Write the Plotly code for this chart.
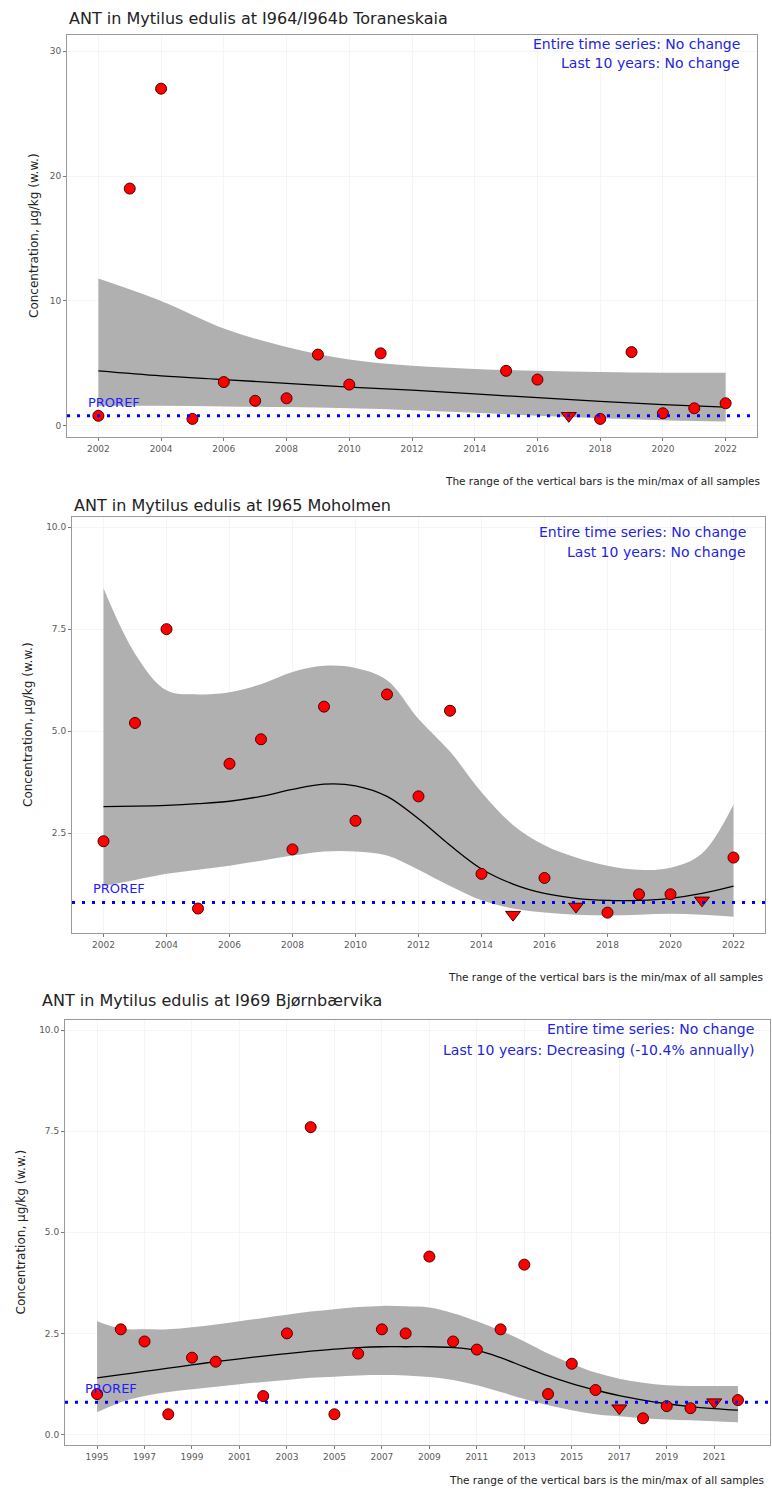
import plotly.graph_objects as go

W, H = 772, 1490

# ---------------- I964/I964b Toraneskaia ----------------
tor_years = [2002, 2003, 2004, 2005, 2006, 2007, 2008, 2009, 2010, 2011,
             2015, 2016, 2017, 2018, 2019, 2020, 2021, 2022]
tor_conc = [0.8, 19.0, 27.0, 0.55, 3.5, 2.0, 2.2, 5.7, 3.3, 5.8,
            4.4, 3.7, 0.8, 0.55, 5.9, 1.0, 1.4, 1.8]
tor_below_loq = [2017]
tor_fit_years = [2002, 2004, 2006, 2008, 2010, 2012, 2014, 2016, 2018, 2020, 2022]
tor_fit = [4.4, 4.0, 3.7, 3.4, 3.1, 2.85, 2.55, 2.25, 1.95, 1.7, 1.5]
tor_hi = [11.8, 10.0, 7.8, 6.3, 5.3, 4.8, 4.55, 4.4, 4.3, 4.25, 4.25]
tor_lo = [1.6, 1.6, 1.55, 1.5, 1.4, 1.25, 1.05, 0.8, 0.6, 0.45, 0.35]

# ---------------- I965 Moholmen ----------------
moh_years = list(range(2002, 2023))
moh_conc = [2.3, 5.2, 7.5, 0.65, 4.2, 4.8, 2.1, 5.6, 2.8, 5.9, 3.4,
            5.5, 1.5, 0.5, 1.4, 0.7, 0.55, 1.0, 1.0, 0.85, 1.9]
moh_below_loq = [2015, 2017, 2021]
moh_fit_years = list(range(2002, 2023))
moh_fit = [3.15, 3.16, 3.18, 3.22, 3.28, 3.4, 3.57, 3.7, 3.66, 3.4, 2.85,
           2.2, 1.62, 1.25, 1.02, 0.9, 0.85, 0.85, 0.9, 1.02, 1.2]
moh_hi = [8.5, 6.9, 6.0, 5.9, 5.95, 6.15, 6.45, 6.6, 6.55, 6.25, 5.3,
          4.5, 3.5, 2.7, 2.2, 1.9, 1.7, 1.6, 1.65, 2.0, 3.2]
moh_lo = [1.2, 1.35, 1.5, 1.6, 1.7, 1.82, 1.95, 2.05, 2.05, 1.95, 1.6,
          1.2, 0.85, 0.65, 0.55, 0.5, 0.48, 0.5, 0.52, 0.5, 0.45]

# ---------------- I969 Bjørnbærvika ----------------
bjo_years = [1995, 1996, 1997, 1998, 1999, 2000, 2002, 2003, 2004, 2005,
             2006, 2007, 2008, 2009, 2010, 2011, 2012, 2013, 2014, 2015,
             2016, 2017, 2018, 2019, 2020, 2021, 2022]
bjo_conc = [1.0, 2.6, 2.3, 0.5, 1.9, 1.8, 0.95, 2.5, 7.6, 0.5,
            2.0, 2.6, 2.5, 4.4, 2.3, 2.1, 2.6, 4.2, 1.0, 1.75,
            1.1, 0.65, 0.4, 0.7, 0.65, 0.8, 0.85]
bjo_below_loq = [2017, 2021]
bjo_fit_years = list(range(1995, 2023))
bjo_fit = [1.4, 1.48, 1.56, 1.64, 1.72, 1.8, 1.87, 1.94, 2.0, 2.06,
           2.11, 2.15, 2.17, 2.17, 2.17, 2.15, 2.08, 1.9, 1.67, 1.45,
           1.26, 1.1, 0.96, 0.85, 0.76, 0.69, 0.64, 0.6]
bjo_hi = [2.8, 2.62, 2.6, 2.6, 2.65, 2.72, 2.8, 2.88, 2.96, 3.04,
          3.1, 3.15, 3.18, 3.17, 3.14, 3.0, 2.8, 2.57, 2.3, 2.0,
          1.75, 1.53, 1.38, 1.28, 1.22, 1.2, 1.2, 1.2]
bjo_lo = [0.55, 0.8, 0.95, 1.05, 1.12, 1.18, 1.24, 1.3, 1.35, 1.4,
          1.43, 1.46, 1.47, 1.46, 1.42, 1.35, 1.22, 1.05, 0.88, 0.72,
          0.6, 0.5, 0.45, 0.4, 0.37, 0.35, 0.33, 0.3]

PROREF = 0.8

panels = [
    dict(title="ANT in Mytilus edulis at I964/I964b Toraneskaia",
         years=tor_years, conc=tor_conc, below=tor_below_loq,
         fit_x=tor_fit_years, fit=tor_fit, hi=tor_hi, lo=tor_lo,
         trend1="Entire time series: No change",
         trend2="Last 10 years: No change",
         box=(67, 757, 35, 437), xr=[2001, 2023], yr=[-0.9, 31.3],
         xt=list(range(2002, 2023, 2)), yt=[0, 10, 20, 30],
         ytl=["0", "10", "20", "30"],
         title_xy=(67, 18), ylab_x=34, trend_x=742, trend_y=(44, 63),
         note_xy=(762, 481), proref_x=2001.6),
    dict(title="ANT in Mytilus edulis at I965 Moholmen",
         years=moh_years, conc=moh_conc, below=moh_below_loq,
         fit_x=moh_fit_years, fit=moh_fit, hi=moh_hi, lo=moh_lo,
         trend1="Entire time series: No change",
         trend2="Last 10 years: No change",
         box=(72, 765, 517, 933), xr=[2001, 2023], yr=[0.05, 10.25],
         xt=list(range(2002, 2023, 2)), yt=[2.5, 5.0, 7.5, 10.0],
         ytl=["2.5", "5.0", "7.5", "10.0"],
         title_xy=(72, 505), ylab_x=28, trend_x=748, trend_y=(532, 552),
         note_xy=(765, 977), proref_x=2001.6),
    dict(title="ANT in Mytilus edulis at I969 Bjørnbærvika",
         years=bjo_years, conc=bjo_conc, below=bjo_below_loq,
         fit_x=bjo_fit_years, fit=bjo_fit, hi=bjo_hi, lo=bjo_lo,
         trend1="Entire time series: No change",
         trend2="Last 10 years: Decreasing (-10.4% annually)",
         box=(65, 770, 1020, 1445), xr=[1993.65, 2023.35], yr=[-0.26, 10.25],
         xt=list(range(1995, 2022, 2)), yt=[0.0, 2.5, 5.0, 7.5, 10.0],
         ytl=["0.0", "2.5", "5.0", "7.5", "10.0"],
         title_xy=(40, 1000), ylab_x=20, trend_x=756, trend_y=(1029, 1050),
         note_xy=(766, 1480), proref_x=1994.4),
]

FONT = "DejaVu Sans"
BLUE_TXT = "#2424dc"


def px(x):
    return x / W


def py(y):
    return 1 - y / H


fig = go.Figure()
layout = dict(width=W, height=H, margin=dict(l=0, r=0, t=0, b=0),
              paper_bgcolor="white", plot_bgcolor="white",
              showlegend=False, annotations=[], shapes=[])

for i, p in enumerate(panels, start=1):
    xa = "x" if i == 1 else f"x{i}"
    ya = "y" if i == 1 else f"y{i}"
    left, right, top, bottom = p["box"]

    # confidence band of the smoother
    fig.add_trace(go.Scatter(x=p["fit_x"], y=p["hi"], mode="lines",
                             line=dict(width=0, shape="spline", color="rgba(0,0,0,0)"),
                             xaxis=xa, yaxis=ya, hoverinfo="skip"))
    fig.add_trace(go.Scatter(x=p["fit_x"], y=p["lo"], mode="lines",
                             line=dict(width=0, shape="spline", color="rgba(0,0,0,0)"),
                             fill="tonexty", fillcolor="#b0b0b0",
                             xaxis=xa, yaxis=ya, hoverinfo="skip"))
    # smoothed trend
    fig.add_trace(go.Scatter(x=p["fit_x"], y=p["fit"], mode="lines",
                             line=dict(width=1.3, shape="spline", color="black"),
                             xaxis=xa, yaxis=ya))

    # measured medians: circles, below-LOQ as downward triangles
    cx = [x for x in p["years"] if x not in p["below"]]
    cy = [v for x, v in zip(p["years"], p["conc"]) if x not in p["below"]]
    tx = [x for x in p["years"] if x in p["below"]]
    ty = [v for x, v in zip(p["years"], p["conc"]) if x in p["below"]]
    fig.add_trace(go.Scatter(x=cx, y=cy, mode="markers",
                             marker=dict(symbol="circle", size=11, color="#ff0000",
                                         line=dict(color="#4a0000", width=1)),
                             xaxis=xa, yaxis=ya))
    fig.add_trace(go.Scatter(x=tx, y=ty, mode="markers",
                             marker=dict(symbol="triangle-down", size=13, color="#ff0000",
                                         line=dict(color="#4a0000", width=1)),
                             xaxis=xa, yaxis=ya))

    axis_common = dict(showline=True, mirror=True, linecolor="#9a9a9a", linewidth=1,
                       ticks="outside", ticklen=3, tickcolor="#7a7a7a",
                       tickfont=dict(family=FONT, size=9, color="#5a5a5a"),
                       showgrid=True, gridcolor="#f5f5f5", gridwidth=1,
                       zeroline=False)
    layout["xaxis" if i == 1 else f"xaxis{i}"] = dict(
        axis_common, domain=[px(left), px(right)], range=p["xr"],
        tickvals=p["xt"], ticktext=[str(v) for v in p["xt"]],
        anchor=ya)
    layout["yaxis" if i == 1 else f"yaxis{i}"] = dict(
        axis_common, domain=[py(bottom), py(top)], range=p["yr"],
        tickvals=p["yt"], ticktext=p["ytl"], anchor=xa)

    # PROREF reference line
    layout["shapes"].append(dict(type="line", xref=f"{xa} domain", yref=ya,
                                 x0=0, x1=1, y0=PROREF, y1=PROREF,
                                 line=dict(color="#0000ff", width=3, dash="3px,7px")))
    layout["annotations"].append(dict(text="PROREF", xref=xa, yref=ya,
                                      x=p["proref_x"], y=PROREF, xanchor="left",
                                      yanchor="bottom", yshift=4, showarrow=False,
                                      font=dict(family=FONT, size=13, color="#1c1cff")))

    # title
    tx0, ty0 = p["title_xy"]
    layout["annotations"].append(dict(text=p["title"], xref="paper", yref="paper",
                                      x=px(tx0), y=py(ty0), xanchor="left",
                                      yanchor="middle", showarrow=False,
                                      font=dict(family=FONT, size=16, color="#222222")))
    # y-axis label
    layout["annotations"].append(dict(text="Concentration, µg/kg (w.w.)",
                                      xref="paper", yref="paper",
                                      x=px(p["ylab_x"]), y=py((top + bottom) / 2),
                                      xanchor="center", yanchor="middle",
                                      textangle=-90, showarrow=False,
                                      font=dict(family=FONT, size=12, color="#222222")))
    # trend texts
    for txt, yy in zip([p["trend1"], p["trend2"]], p["trend_y"]):
        layout["annotations"].append(dict(text=txt, xref="paper", yref="paper",
                                          x=px(p["trend_x"]), y=py(yy),
                                          xanchor="right", yanchor="middle",
                                          showarrow=False,
                                          font=dict(family=FONT, size=14, color=BLUE_TXT)))
    # footnote
    nx, ny = p["note_xy"]
    layout["annotations"].append(dict(text="The range of the vertical bars is the min/max of all samples",
                                      xref="paper", yref="paper", x=px(nx), y=py(ny),
                                      xanchor="right", yanchor="middle", showarrow=False,
                                      font=dict(family=FONT, size=10.5, color="#222222")))

fig.update_layout(**layout)
fig.write_html("out.html")
